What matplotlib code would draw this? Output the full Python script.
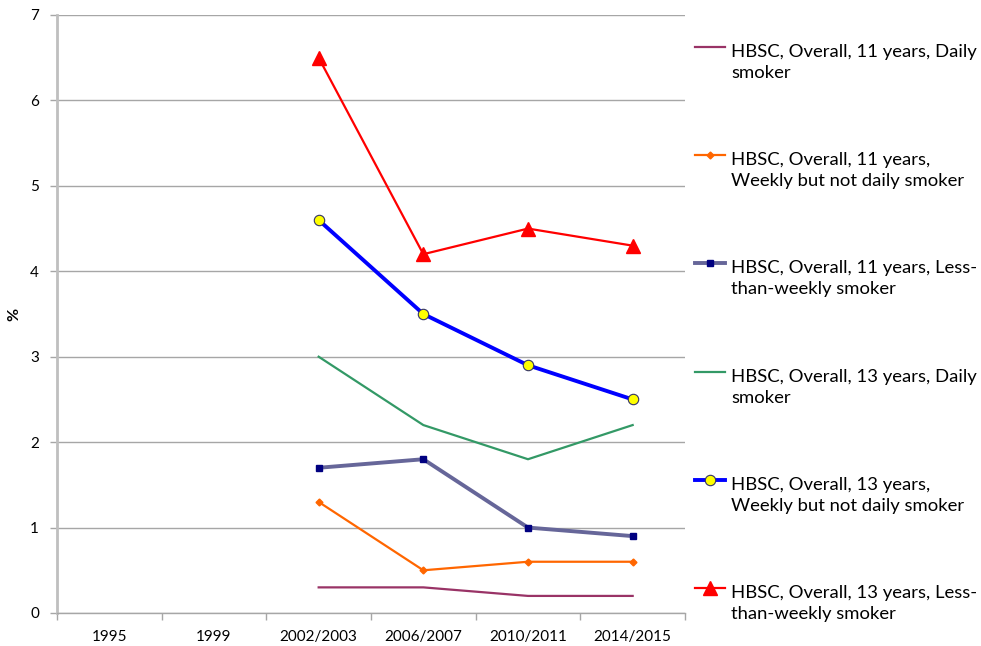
import matplotlib
matplotlib.use("Agg")
import matplotlib.pyplot as plt
from matplotlib.lines import Line2D
import numpy as np

plt.rcParams['font.family'] = ['Lato', 'DejaVu Sans']

# Survey waves on the category axis
waves = ['1995', '1999', '2002/2003', '2006/2007', '2010/2011', '2014/2015']

# HBSC smoking prevalence (%), only the last four waves have data
s11_daily = [np.nan, np.nan, 0.3, 0.3, 0.2, 0.2]
s11_weekly = [np.nan, np.nan, 1.3, 0.5, 0.6, 0.6]
s11_less = [np.nan, np.nan, 1.7, 1.8, 1.0, 0.9]
s13_daily = [np.nan, np.nan, 3.0, 2.2, 1.8, 2.2]
s13_weekly = [np.nan, np.nan, 4.6, 3.5, 2.9, 2.5]
s13_less = [np.nan, np.nan, 6.5, 4.2, 4.5, 4.3]

labels = [
    'HBSC, Overall, 11 years, Daily\nsmoker',
    'HBSC, Overall, 11 years,\nWeekly but not daily smoker',
    'HBSC, Overall, 11 years, Less-\nthan-weekly smoker',
    'HBSC, Overall, 13 years, Daily\nsmoker',
    'HBSC, Overall, 13 years,\nWeekly but not daily smoker',
    'HBSC, Overall, 13 years, Less-\nthan-weekly smoker',
]

styles = [
    dict(color='#993366', lw=1.6),
    dict(color='#FF6600', lw=1.6, marker='D', ms=3.5, mfc='#FF6600', mec='#FF6600'),
    dict(color='#666699', lw=2.8, marker='s', ms=4.5, mfc='#000080', mec='#000080'),
    dict(color='#339966', lw=1.6),
    dict(color='#0000FF', lw=2.8, marker='o', ms=7.5, mfc='#FFFF00', mec='#333366', mew=0.8),
    dict(color='#FF0000', lw=1.6, marker='^', ms=9.5, mfc='#FF0000', mec='#FF0000'),
]

series = [s11_daily, s11_weekly, s11_less, s13_daily, s13_weekly, s13_less]

fig = plt.figure(figsize=(9.81, 6.46), dpi=100)
ax = fig.add_axes([57 / 981, 33 / 646, 628 / 981, 598 / 646])

x = np.arange(len(waves))
for ys, st in zip(series, styles):
    ax.plot(x, ys, solid_joinstyle='miter', zorder=3, **st)

ax.set_xlim(-0.5, len(waves) - 0.5)
ax.set_ylim(0, 7)
ax.set_yticks(range(0, 8))
ax.set_xticks(x)
ax.set_xticklabels(waves, fontsize=11)
ax.set_xticks(np.arange(-0.5, len(waves), 1.0), minor=True)
ax.tick_params(axis='x', which='major', length=0, pad=12)
ax.tick_params(axis='x', which='minor', length=5, color='#a6a6a6', width=1)
ax.tick_params(axis='y', length=5, color='#a6a6a6', width=1, labelsize=11, pad=8)
ax.yaxis.grid(True, color='#a6a6a6', lw=1)
ax.set_axisbelow(True)
for side in ['top', 'right']:
    ax.spines[side].set_visible(False)
ax.spines['left'].set_color('#bfbfbf')
ax.spines['left'].set_linewidth(2)
ax.spines['bottom'].set_color('#a6a6a6')
ax.spines['bottom'].set_linewidth(1)
ax.set_ylabel('%', fontsize=11.5, fontweight='bold', labelpad=6)

# legend on the right, one block per series
W, H = 981, 646
for i, (lab, st) in enumerate(zip(labels, styles)):
    yc = 47 + i * 108.2
    line_st = {k: v for k, v in st.items() if k in ('color', 'lw')}
    fig.add_artist(Line2D([695 / W, 725 / W], [1 - yc / H] * 2,
                          transform=fig.transFigure, **line_st))
    if 'marker' in st:
        fig.add_artist(Line2D([710 / W], [1 - yc / H], transform=fig.transFigure,
                              ls='none', marker=st['marker'], ms=st['ms'],
                              mfc=st['mfc'], mec=st['mec'], mew=st.get('mew', 1)))
    fig.text(731 / W, 1 - (yc - 3) / H, lab, fontsize=13.3, va='top', ha='left',
             linespacing=1.38, transform=fig.transFigure)

fig.savefig('out.png', dpi=100)
